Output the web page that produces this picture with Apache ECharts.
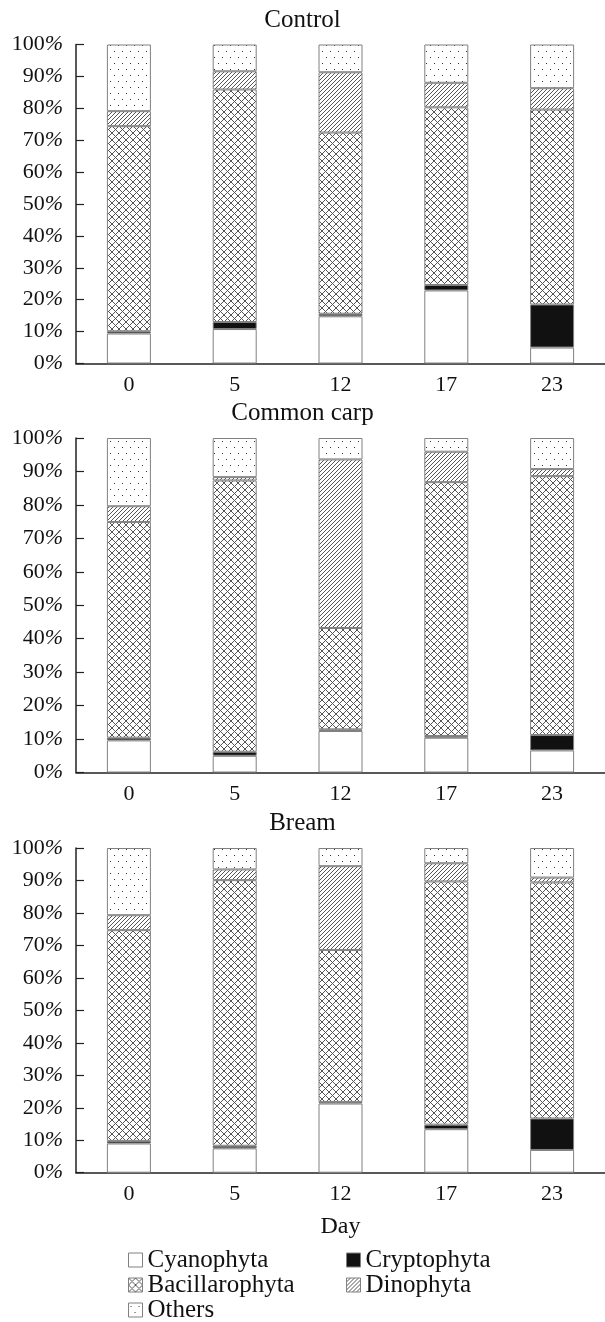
<!DOCTYPE html>
<html>
<head>
<meta charset="utf-8">
<script src="https://cdn.jsdelivr.net/npm/echarts@6/dist/echarts.min.js"></script>
<style>
  html, body { margin: 0; padding: 0; background: #fff; }
  #chart { width: 605px; height: 1322px; }
</style>
</head>
<body>
<div id="chart"></div>
<script>
// Sampling days and panel titles
const days = ['0', '5', '12', '17', '23'];
const panelTitles = ['Control', 'Common carp', 'Bream'];
const groupNames = ['Cyanophyta', 'Cryptophyta', 'Bacillarophyta', 'Dinophyta', 'Others'];

// Relative abundance, % of total phytoplankton
const controlCyano  = [9.4, 10.8, 14.8, 22.9, 5.0];
const controlCrypto = [0.7, 2.2, 0.8, 1.7, 13.5];
const controlBacil  = [64.3, 72.9, 56.8, 55.7, 61.1];
const controlDino   = [4.7, 5.7, 18.9, 7.7, 6.7];
const controlOthers = [20.9, 8.4, 8.7, 12.0, 13.7];

const carpCyano  = [9.6, 5.0, 12.4, 10.4, 6.6];
const carpCrypto = [0.8, 1.2, 0.5, 0.5, 4.6];
const carpBacil  = [64.5, 81.1, 30.3, 75.9, 77.4];
const carpDino   = [4.7, 1.0, 50.4, 9.1, 2.1];
const carpOthers = [20.4, 11.7, 6.4, 4.1, 9.3];

const breamCyano  = [9.0, 7.5, 21.3, 13.4, 7.0];
const breamCrypto = [0.8, 0.8, 0.5, 1.4, 9.7];
const breamBacil  = [64.9, 81.8, 46.8, 74.9, 72.7];
const breamDino   = [4.6, 3.3, 25.8, 5.6, 1.5];
const breamOthers = [20.7, 6.6, 5.6, 4.7, 9.1];

const panels = [
  [controlCyano, controlCrypto, controlBacil, controlDino, controlOthers],
  [carpCyano, carpCrypto, carpBacil, carpDino, carpOthers],
  [breamCyano, breamCrypto, breamBacil, breamDino, breamOthers]
];

// Monochrome fill patterns built from small pixel tiles
function tile(w, h, ink, test) {
  const c = document.createElement('canvas');
  c.width = w; c.height = h;
  const ctx = c.getContext('2d');
  ctx.fillStyle = '#ffffff';
  ctx.fillRect(0, 0, w, h);
  ctx.fillStyle = ink;
  for (let y = 0; y < h; y++) {
    for (let x = 0; x < w; x++) {
      if (test(x, y)) ctx.fillRect(x, y, 1, 1);
    }
  }
  return { image: c, repeat: 'repeat' };
}
const crossHatch = tile(7, 7, '#555555', (x, y) => x === y || x + y === 6);
const diagHatch = tile(4, 4, '#555555', (x, y) => (x + y) % 4 === 3);
const dotted = tile(8, 12, '#333333', (x, y) => (x === 2 && y === 3) || (x === 6 && y === 9));

const fills = ['#ffffff', '#111111', crossHatch, diagHatch, dotted];

const FONT = '"Liberation Serif", "Times New Roman", serif';
const INK = '#111111';
const AXIS = '#222222';

// Plot area placement for the three stacked panels
const gridBoxes = [
  { top: 44.5, height: 319 },
  { top: 438, height: 334.5 },
  { top: 848, height: 324.7 }
];

const grids = gridBoxes.map(b => ({ left: 76, right: -6, top: b.top, height: b.height }));

const xAxes = gridBoxes.map((b, i) => ({
  type: 'category',
  gridIndex: i,
  data: days,
  boundaryGap: true,
  axisLine: { lineStyle: { color: AXIS, width: 1.5 } },
  axisTick: { inside: true, length: 8, lineStyle: { color: AXIS, width: 1.2 } },
  axisLabel: { color: INK, fontFamily: FONT, fontSize: 22, margin: 11 },
  name: i === 2 ? 'Day' : '',
  nameLocation: 'middle',
  nameGap: 42,
  nameTextStyle: { color: INK, fontFamily: FONT, fontSize: 24 },
  splitLine: { show: false }
}));

const yAxes = gridBoxes.map((b, i) => ({
  type: 'value',
  gridIndex: i,
  min: 0,
  max: 100,
  interval: 10,
  axisLine: { show: true, lineStyle: { color: AXIS, width: 1.5 } },
  axisTick: { show: true, inside: true, length: 8, lineStyle: { color: AXIS, width: 1.2 } },
  axisLabel: {
    margin: 13,
    formatter: v => '{n|' + v + '}{p|%}',
    rich: {
      n: { color: INK, fontFamily: FONT, fontSize: 22 },
      p: { color: INK, fontFamily: FONT, fontSize: 22, fontStyle: 'italic' }
    }
  },
  splitLine: { show: false }
}));

const series = [];
panels.forEach((groups, p) => {
  groups.forEach((vals, g) => {
    series.push({
      name: groupNames[g],
      type: 'bar',
      xAxisIndex: p,
      yAxisIndex: p,
      stack: 'panel' + p,
      barWidth: 44,
      data: vals,
      itemStyle: { color: fills[g], borderColor: '#808080', borderWidth: 1 },
      emphasis: { disabled: true },
      animation: false
    });
  });
});

const titleTops = [7.5, 400.5, 810.5];
const titles = panelTitles.map((t, i) => ({
  text: t,
  left: 'center',
  top: titleTops[i],
  padding: 0,
  textStyle: { color: INK, fontFamily: FONT, fontSize: 25, fontWeight: 'normal' }
}));

const legendText = { color: INK, fontFamily: FONT, fontSize: 25, lineHeight: 25 };
const legendBase = {
  orient: 'vertical',
  icon: 'rect',
  itemWidth: 14,
  itemHeight: 14,
  itemGap: 0,
  padding: 0,
  top: 1247.5,
  height: 120,
  textStyle: legendText,
  itemStyle: { borderColor: '#808080', borderWidth: 1 },
  selectedMode: false
};

const chart = echarts.init(document.getElementById('chart'), null, { renderer: 'canvas' });
chart.setOption({
  backgroundColor: '#ffffff',
  animation: false,
  title: titles,
  legend: [
    Object.assign({}, legendBase, { left: 128, data: ['Cyanophyta', 'Bacillarophyta', 'Others'] }),
    Object.assign({}, legendBase, { left: 346, data: ['Cryptophyta', 'Dinophyta'] })
  ],
  grid: grids,
  xAxis: xAxes,
  yAxis: yAxes,
  series: series
});
</script>
</body>
</html>
